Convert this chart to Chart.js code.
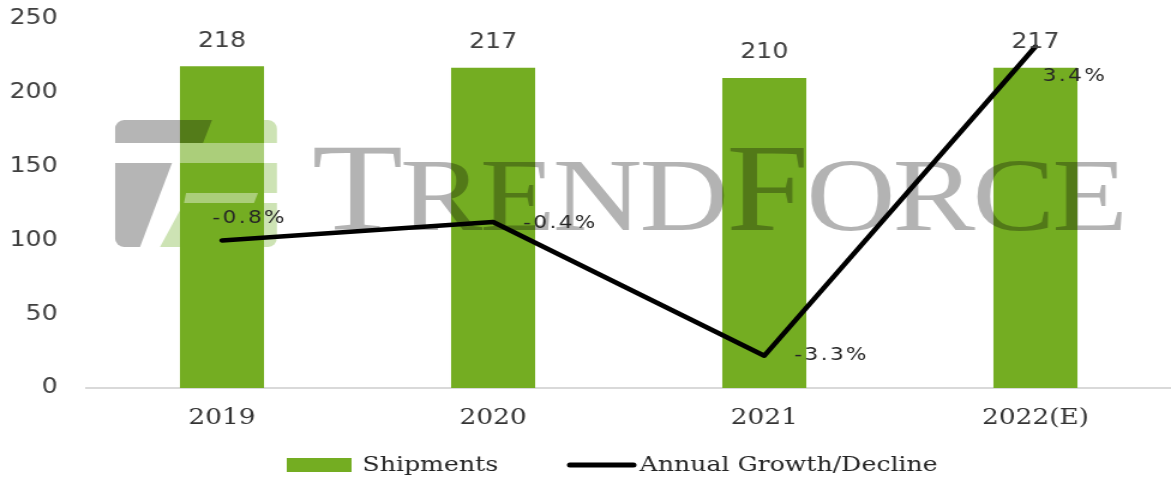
<!DOCTYPE html>
<html>
<head>
<meta charset="utf-8">
<script src="https://cdn.jsdelivr.net/npm/chart.js@4/dist/chart.umd.min.js"></script>
<style>
html, body { margin: 0; padding: 0; background: #fff; }
</style>
</head>
<body>
<!-- the source picture is stretched sideways, so the canvas is drawn narrower and stretched by css -->
<canvas id="chart" width="976" height="478" style="display:block;width:1171px;height:478px"></canvas>
<script>
var categories = ['2019', '2020', '2021', '2022(E)'];
var shipments = [218, 217, 210, 217];
var growth = [-0.8, -0.4, -3.3, 3.4];
var shipmentTicks = [0, 50, 100, 150, 200, 250];
var growthRange = [-4, 4];

var GREEN = '#74ad22';
var TEXT = '#404040';
var SX = 976 / 1171; // page px -> canvas px

// where each growth label sits relative to its point (Excel placed them by hand)
var growthLabelOffsets = [[-8, -22], [25, 1], [25, 0], [6, 30]];

function poly(ctx, pts) {
    ctx.beginPath();
    ctx.moveTo(pts[0][0], pts[0][1]);
    for (var i = 1; i < pts.length; i++) ctx.lineTo(pts[i][0], pts[i][1]);
    ctx.closePath();
    ctx.fill();
}

// white canvas so the blend modes of the watermark work on real colours
var background = {
    id: 'background',
    beforeDraw: function (chart) {
        var ctx = chart.ctx;
        ctx.save();
        ctx.fillStyle = '#ffffff';
        ctx.fillRect(0, 0, chart.width, chart.height);
        ctx.restore();
    }
};

// TrendForce watermark, drawn over the bars but under the line
var watermark = {
    id: 'watermark',
    afterDatasetDraw: function (chart, args) {
        if (args.index !== 0) return;
        var ctx = chart.ctx;
        ctx.save();

        // logo, coordinates in page pixels
        ctx.save();
        ctx.scale(SX, 1);
        ctx.beginPath();
        ctx.roundRect(115, 120, 162, 127, 9);
        ctx.clip();
        ctx.globalCompositeOperation = 'darken';
        ctx.fillStyle = '#cde3b4';
        poly(ctx, [[212, 120], [277, 120], [277, 143], [203, 143]]);
        poly(ctx, [[196, 163], [277, 163], [277, 193], [186, 193]]);
        poly(ctx, [[184, 203], [277, 203], [277, 247], [160, 247]]);
        ctx.globalCompositeOperation = 'multiply';
        ctx.fillStyle = '#b5b5b5';
        poly(ctx, [[115, 120], [212, 120], [203, 143], [115, 143]]);
        poly(ctx, [[115, 163], [172, 163], [140, 247], [115, 247]]);
        ctx.globalCompositeOperation = 'source-over';
        ctx.fillStyle = 'rgba(255,255,255,0.4)';
        poly(ctx, [[172, 143], [277, 143], [277, 163], [172, 163]]);
        poly(ctx, [[186, 193], [258, 193], [254, 203], [184, 203]]);
        ctx.restore();

        // small caps word
        var letters = [['T', 124], ['R', 103], ['E', 103], ['N', 103], ['D', 103],
                       ['F', 124], ['O', 103], ['R', 103], ['C', 103], ['E', 103]];
        var x0 = 260, x1 = 940, base = 230;
        var total = 0;
        letters.forEach(function (l) {
            ctx.font = l[1] + 'px "Liberation Serif"';
            l.push(ctx.measureText(l[0]).width);
            total += l[2];
        });
        var gap = (x1 - x0 - total) / (letters.length - 1);
        ctx.globalCompositeOperation = 'multiply';
        ctx.fillStyle = '#b3b3b3';
        ctx.textBaseline = 'alphabetic';
        ctx.textAlign = 'left';
        var x = x0;
        letters.forEach(function (l) {
            ctx.font = l[1] + 'px "Liberation Serif"';
            ctx.fillText(l[0], x, base);
            x += l[2] + gap;
        });
        ctx.restore();
    }
};

var valueLabels = {
    id: 'valueLabels',
    afterDatasetsDraw: function (chart) {
        var ctx = chart.ctx;
        var bars = chart.getDatasetMeta(0).data;
        var pts = chart.getDatasetMeta(1).data;
        ctx.save();
        ctx.fillStyle = TEXT;
        ctx.font = '21px "DejaVu Sans"';
        ctx.textAlign = 'center';
        ctx.textBaseline = 'middle';
        bars.forEach(function (bar, i) {
            ctx.fillText(String(shipments[i]), bar.x, bar.y - 25);
        });
        ctx.fillStyle = '#262626';
        ctx.font = '18px "DejaVu Sans"';
        ctx.letterSpacing = '2px';
        ctx.textAlign = 'left';
        pts.forEach(function (pt, i) {
            var off = growthLabelOffsets[i];
            ctx.fillText(growth[i].toFixed(1) + '%', pt.x + off[0], pt.y + off[1]);
        });
        ctx.restore();
    }
};

// legend sits off centre in the original, so draw it by hand
var legendBox = {
    id: 'legendBox',
    afterDraw: function (chart) {
        var ctx = chart.ctx;
        var ds = chart.data.datasets;
        ctx.save();
        ctx.font = '21px "DejaVu Serif"';
        ctx.textBaseline = 'middle';
        ctx.textAlign = 'left';
        ctx.fillStyle = ds[0].backgroundColor;
        ctx.fillRect(239, 458, 54, 14);
        ctx.fillStyle = '#262626';
        ctx.fillText(ds[0].label, 302, 466);
        ctx.strokeStyle = ds[1].borderColor;
        ctx.lineWidth = 5;
        ctx.lineCap = 'round';
        ctx.beginPath();
        ctx.moveTo(475, 465);
        ctx.lineTo(528, 465);
        ctx.stroke();
        ctx.fillText(ds[1].label, 533, 466);
        ctx.restore();
    }
};

new Chart(document.getElementById('chart'), {
    type: 'bar',
    data: {
        labels: categories,
        datasets: [{
            type: 'bar',
            label: 'Shipments',
            data: shipments,
            backgroundColor: GREEN,
            borderWidth: 0,
            categoryPercentage: 1,
            barPercentage: 0.31,
            yAxisID: 'y',
            order: 2
        }, {
            type: 'line',
            label: 'Annual Growth/Decline',
            data: growth,
            borderColor: '#000000',
            borderWidth: 4.5,
            borderCapStyle: 'round',
            borderJoinStyle: 'round',
            pointRadius: 0,
            tension: 0,
            fill: false,
            yAxisID: 'y2',
            order: 1
        }]
    },
    options: {
        responsive: false,
        devicePixelRatio: 1,
        animation: false,
        layout: { padding: { top: 19, right: 0, bottom: 0, left: 0 } },
        plugins: {
            legend: { display: false },
            tooltip: { enabled: false }
        },
        scales: {
            x: {
                grid: { display: false, drawTicks: false },
                border: { display: true, color: '#d9d9d9', width: 2 },
                ticks: { color: '#333333', font: { family: 'DejaVu Serif', size: 22 }, padding: 17 },
                afterFit: function (s) { s.height = 90; }
            },
            y: {
                min: shipmentTicks[0],
                max: shipmentTicks[shipmentTicks.length - 1],
                afterBuildTicks: function (s) {
                    s.ticks = shipmentTicks.map(function (v) { return { value: v }; });
                },
                grid: { display: false, drawTicks: false },
                border: { display: false },
                ticks: { color: TEXT, font: { family: 'DejaVu Sans', size: 21 }, padding: 24 },
                afterFit: function (s) {
                    s.width = 72;
                    // tick padding would otherwise push the plot top down
                    s.paddingTop = 0;
                    s.paddingBottom = 0;
                }
            },
            y2: {
                display: false,
                min: growthRange[0],
                max: growthRange[1]
            }
        }
    },
    plugins: [background, watermark, valueLabels, legendBox]
});
</script>
</body>
</html>
